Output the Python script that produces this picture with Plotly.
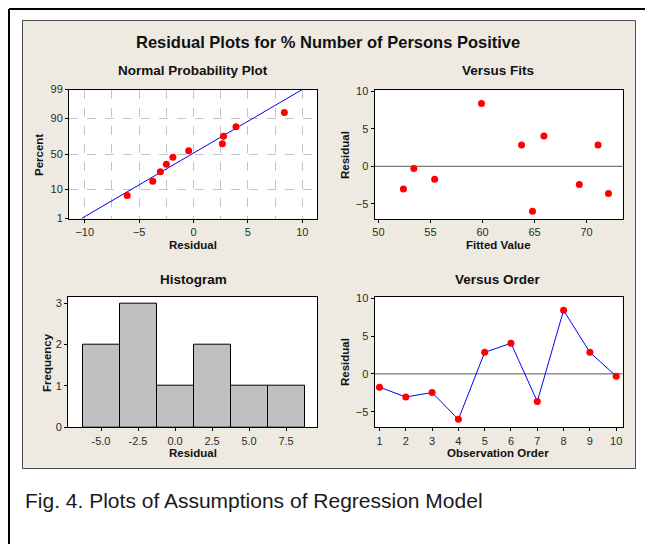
import plotly.graph_objects as go
from statistics import NormalDist

W, H = 653, 544

# ---------------- data ----------------
obs_order = [1, 2, 3, 4, 5, 6, 7, 8, 9, 10]
residuals = [-1.75, -3.05, -2.45, -6.0, 2.85, 4.05, -3.65, 8.4, 2.85, -0.3]
fitted = [55.4, 52.4, 69.3, 64.8, 63.75, 65.9, 72.1, 59.9, 71.1, 53.4]

npp_resid = [-6.1, -3.75, -3.05, -2.5, -1.9, -0.45, 2.65, 2.75, 3.9, 8.35]
npp_pct = [6.7, 16.3, 26.0, 35.6, 45.2, 54.8, 64.4, 74.0, 83.7, 93.3]
fit_line_resid = [-10.3, 10.0]
fit_line_pct = [1, 99]
pct_ticks = [1, 10, 50, 90, 99]

hist_mid = [-5.0, -2.5, 0.0, 2.5, 5.0, 7.5]
hist_count = [2, 3, 1, 2, 1, 1]
hist_ticktext = ["-5.0", "-2.5", "0.0", "2.5", "5.0", "7.5"]

main_title = "Residual Plots for % Number of Persons Positive"
caption = "Fig. 4. Plots of Assumptions of Regression Model"

# ---------------- helpers ----------------
nd = NormalDist()
def z(p):
    return nd.inv_cdf(p / 100.0)

# the page places the figure 8 px from the top-left corner; positions below are
# given in window pixels and converted to paper coordinates
OFF = 8
def px_x(a):
    return (a - OFF) / W

def px_y(b):
    return 1 - (b - OFF) / H

FONT = "Liberation Sans, Arial, sans-serif"
TICKFONT = dict(family=FONT, size=11, color="#2a2a2a")
RED = "#FF0000"
BLUE = "#0000FF"

# plot frames in window pixels: (left, top, right, bottom)
F_NPP = (69, 89.5, 317, 218.5)
F_FIT = (374.5, 90, 622.5, 219)
F_HIS = (68, 296.7, 317, 427.3)
F_ORD = (374.5, 296.7, 622.5, 427.3)

def dom(f):
    l, t, r, b = f
    return [px_x(l), px_x(r)], [px_y(b), px_y(t)]

fig = go.Figure()

# Normal probability plot
fig.add_trace(go.Scatter(x=fit_line_resid, y=[z(p) for p in fit_line_pct], mode="lines",
                         line=dict(color=BLUE, width=1), xaxis="x", yaxis="y", hoverinfo="skip"))
fig.add_trace(go.Scatter(x=npp_resid, y=[z(p) for p in npp_pct], mode="markers",
                         marker=dict(color=RED, size=7), xaxis="x", yaxis="y"))
# Versus fits
fig.add_trace(go.Scatter(x=fitted, y=residuals, mode="markers",
                         marker=dict(color=RED, size=7), xaxis="x2", yaxis="y2"))
# Histogram
fig.add_trace(go.Bar(x=hist_mid, y=hist_count, width=2.5,
                     marker=dict(color="#C0C0C0", line=dict(color="#000000", width=1)),
                     xaxis="x3", yaxis="y3"))
# Versus order
fig.add_trace(go.Scatter(x=obs_order, y=residuals, mode="lines+markers",
                         line=dict(color=BLUE, width=1),
                         marker=dict(color=RED, size=7), xaxis="x4", yaxis="y4"))

common = dict(showline=True, linecolor="#000000", linewidth=1, mirror=True,
              ticks="outside", ticklen=3, tickcolor="#000000", tickwidth=1,
              tickfont=TICKFONT, zeroline=False, fixedrange=True, automargin=False)
GRID = dict(showgrid=True, gridcolor="#C4C4C4", griddash="dash", gridwidth=1)

dx, dy = dom(F_NPP)
fig.update_layout(
    xaxis=dict(domain=dx, anchor="y", range=[-11.45, 11.35], tickvals=[-10, -5, 0, 5, 10],
               minor=dict(dtick=2.5, tick0=0, showgrid=True, gridcolor="#C4C4C4",
                          griddash="dash", gridwidth=1, ticks=""),
               **GRID, **common),
    yaxis=dict(domain=dy, anchor="x", range=[z(1), z(99)],
               tickvals=[z(p) for p in pct_ticks], ticktext=[str(p) for p in pct_ticks],
               **GRID, **common),
)
dx, dy = dom(F_FIT)
fig.update_layout(
    xaxis2=dict(domain=dx, anchor="y2", range=[49.62, 73.45], tickvals=[50, 55, 60, 65, 70],
                showgrid=False, **common),
    yaxis2=dict(domain=dy, anchor="x2", range=[-7.05, 10.2], tickvals=[-5, 0, 5, 10],
                showgrid=False, **common),
)
dx, dy = dom(F_HIS)
fig.update_layout(
    xaxis3=dict(domain=dx, anchor="y3", range=[-7.23, 9.59], tickvals=hist_mid,
                ticktext=hist_ticktext, showgrid=False, **common),
    yaxis3=dict(domain=dy, anchor="x3", range=[0, 3.16], tickvals=[0, 1, 2, 3],
                showgrid=False, **common),
)
dx, dy = dom(F_ORD)
fig.update_layout(
    xaxis4=dict(domain=dx, anchor="y4", range=[0.81, 10.24], tickvals=obs_order,
                showgrid=False, **common),
    yaxis4=dict(domain=dy, anchor="x4", range=[-7.05, 10.2], tickvals=[-5, 0, 5, 10],
                showgrid=False, **common),
)

shapes = []
# outer border (top and left)
shapes.append(dict(type="line", xref="paper", yref="paper", x0=px_x(9), x1=px_x(670),
                   y0=px_y(9), y1=px_y(9), line=dict(color="#000000", width=2), layer="below"))
shapes.append(dict(type="line", xref="paper", yref="paper", x0=px_x(9), x1=px_x(9),
                   y0=px_y(9), y1=px_y(570), line=dict(color="#000000", width=2), layer="below"))
# beige panel
shapes.append(dict(type="rect", xref="paper", yref="paper", x0=px_x(22.5), x1=px_x(635.5),
                   y0=px_y(468.5), y1=px_y(20.5), fillcolor="#EEEAE1",
                   line=dict(color="#4A4A4A", width=1), layer="below"))
# white plot areas
for f in (F_NPP, F_FIT, F_HIS, F_ORD):
    l, t, r, b = f
    shapes.append(dict(type="rect", xref="paper", yref="paper", x0=px_x(l), x1=px_x(r),
                       y0=px_y(b), y1=px_y(t), fillcolor="#FFFFFF", line=dict(width=0),
                       layer="below"))
# zero reference lines
shapes.append(dict(type="line", xref="x2 domain", yref="y2", x0=0, x1=1, y0=0, y1=0,
                   line=dict(color="#555555", width=1), layer="below"))
shapes.append(dict(type="line", xref="x4 domain", yref="y4", x0=0, x1=1, y0=0, y1=0,
                   line=dict(color="#555555", width=1), layer="below"))

ann = []
def text(x, y, s, size, bold=True, angle=0, color="#111111", family=FONT, xanchor="center"):
    ann.append(dict(xref="paper", yref="paper", x=px_x(x), y=px_y(y), text=f"<b>{s}</b>" if bold else s,
                    showarrow=False, xanchor=xanchor, yanchor="middle", textangle=angle,
                    font=dict(family=family, size=size, color=color)))

text(328, 42, main_title, 16.5)
text(193, 70.5, "Normal Probability Plot", 13.5)
text(498, 70.5, "Versus Fits", 13.5)
text(193, 279, "Histogram", 13.5)
text(498, 279, "Versus Order", 13.5)
text(193, 245, "Residual", 11.5)
text(498, 245.5, "Fitted Value", 11.5)
text(193, 453, "Residual", 11.5)
text(498, 453, "Observation Order", 11.5)
text(39, 155, "Percent", 11.5, angle=-90)
text(345, 155, "Residual", 11.5, angle=-90)
text(47, 363, "Frequency", 11.5, angle=-90)
text(345, 362, "Residual", 11.5, angle=-90)
text(23, 500, caption, 21, bold=False, color="#1a1a1a", xanchor="left")

fig.update_layout(
    template="none",
    width=W, height=H, margin=dict(l=0, r=0, t=0, b=0, pad=0, autoexpand=False),
    paper_bgcolor="#FFFFFF", plot_bgcolor="rgba(0,0,0,0)",
    showlegend=False, shapes=shapes, annotations=ann,
    bargap=0,
)

fig.write_html("out.html")
